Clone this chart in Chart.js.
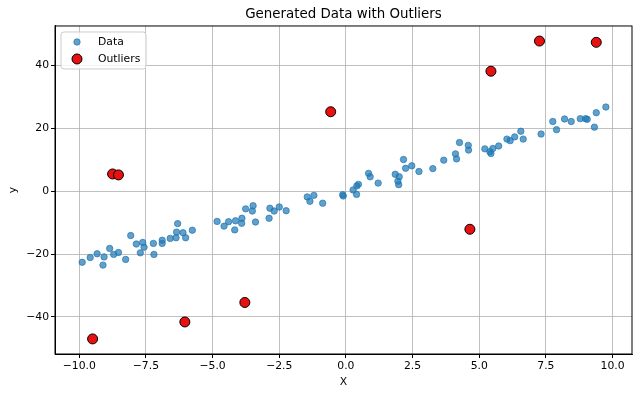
<!DOCTYPE html>
<html lang="en">
  <head>
    <meta charset="UTF-8" />
    <title>Generated Data with Outliers</title>
    <script src="https://cdn.jsdelivr.net/npm/chart.js"></script>
    <style>
      body {
        margin: 0;
        background: #ffffff;
      }
      canvas {
        display: block;
      }
    </style>
  </head>
  <body>
    <canvas id="scatterChart" width="640" height="397"></canvas>

    <script>
      // values
      const xTicks = [-10, -7.5, -5, -2.5, 0, 2.5, 5, 7.5, 10];
      const yTicks = [-40, -20, 0, 20, 40];

      const dataX = [
        -9.89, -9.59, -9.33, -9.07, -9.11, -8.86, -8.71, -8.53, -8.26, -8.07,
        -7.86, -7.62, -7.57, -7.71, -7.22, -7.20, -6.89, -6.89, -6.59, -6.37,
        -6.35, -6.31, -6.11, -6.01, -5.76, -4.83, -4.57, -4.40, -4.17, -4.14,
        -3.91, -3.90, -3.76, -3.51, -3.48, -3.39, -2.88, -2.85, -2.69, -2.50,
        -2.24, -1.45, -1.35, -1.20, -0.87, -0.12, -0.10, 0.27, 0.40, 0.47,
        0.41, 0.85, 0.91, 1.21, 1.85, 1.95, 1.98, 2.00, 2.16, 2.24,
        2.47, 2.74, 3.26, 3.67, 4.11, 4.15, 4.26, 4.59, 4.60, 5.21,
        5.40, 5.44, 5.51, 5.73, 6.04, 6.16, 6.33, 6.56, 6.65, 7.32,
        7.76, 7.90, 8.20, 8.45, 8.79, 8.99, 9.05, 9.32, 9.39, 9.75
      ];
      const dataY = [
        -22.6, -21.1, -19.9, -20.9, -23.5, -18.2, -20.1, -19.5, -21.7, -14.1,
        -16.8, -16.3, -17.8, -19.6, -16.6, -20.1, -15.6, -16.6, -15.0, -14.8,
        -13.0, -10.3, -13.2, -14.8, -12.4, -9.6, -11.1, -9.7, -12.3, -9.4,
        -10.2, -8.6, -5.6, -6.3, -4.6, -9.8, -8.6, -5.4, -6.3, -5.0,
        -6.2, -1.8, -3.2, -1.3, -3.8, -1.1, -1.5, 0.4, -1.0, 2.2,
        1.7, 5.7, 4.6, 2.6, 5.4, 3.2, 2.1, 4.6, 10.1, 7.3,
        8.1, 6.3, 7.2, 9.9, 11.9, 10.3, 15.5, 14.6, 13.1, 13.5,
        12.6, 12.0, 13.6, 14.4, 16.6, 16.1, 17.3, 19.1, 16.6, 18.2,
        22.2, 19.6, 23.0, 22.2, 23.1, 23.1, 22.9, 20.4, 25.0, 26.8
      ];

      const outX = [-9.50, -8.75, -8.53, -6.04, -3.79, -0.57, 4.65, 5.44, 7.26, 9.39];
      const outY = [-47.0, 5.5, 5.2, -41.6, -35.4, 25.3, -12.1, 38.2, 47.8, 47.4];

      const toPoints = (xs, ys) => xs.map((x, i) => ({ x: x, y: ys[i] }));
      const fmtMinus = s => s.replace('-', '\u2212');
      const font = 'DejaVu Sans';
      const small = 10.8;

      // spines on top and right, and the legend box inside the axes
      const framePlugin = {
        id: 'frame',
        afterDraw(chart) {
          const { ctx, chartArea } = chart;
          ctx.save();
          ctx.strokeStyle = '#000';
          ctx.lineWidth = 1;
          ctx.strokeRect(chartArea.left, chartArea.top,
            chartArea.right - chartArea.left, chartArea.bottom - chartArea.top);

          const bx = chartArea.left + 6;
          const by = chartArea.top + 6;
          ctx.beginPath();
          ctx.roundRect(bx, by, 85, 37, 3);
          ctx.fillStyle = 'rgba(255,255,255,0.8)';
          ctx.fill();
          ctx.strokeStyle = '#cccccc';
          ctx.lineWidth = 1;
          ctx.stroke();

          ctx.font = small + 'px "' + font + '"';
          ctx.textBaseline = 'middle';
          chart.data.datasets.slice().reverse().forEach((ds, i) => {
            const cy = by + 10 + i * 17;
            ctx.beginPath();
            ctx.arc(bx + 16, cy, ds.pointRadius, 0, Math.PI * 2);
            ctx.fillStyle = ds.backgroundColor;
            ctx.fill();
            ctx.lineWidth = ds.borderWidth;
            ctx.strokeStyle = ds.borderColor;
            ctx.stroke();
            ctx.fillStyle = '#000';
            ctx.fillText(ds.label, bx + 37, cy);
          });
          ctx.restore();
        }
      };

      const ctx = document.getElementById('scatterChart').getContext('2d');
      new Chart(ctx, {
        type: 'scatter',
        data: {
          datasets: [
            {
              label: 'Outliers',
              data: toPoints(outX, outY),
              backgroundColor: '#e81010',
              borderColor: '#000000',
              borderWidth: 1,
              pointRadius: 5,
              order: 1
            },
            {
              label: 'Data',
              data: toPoints(dataX, dataY),
              backgroundColor: 'rgba(31,119,180,0.7)',
              borderColor: 'rgba(31,119,180,0.7)',
              borderWidth: 1,
              pointRadius: 3.2,
              order: 2
            }
          ]
        },
        options: {
          responsive: false,
          animation: false,
          layout: { padding: { left: 0, right: 8, top: 0, bottom: 0 } },
          plugins: {
            legend: { display: false },
            tooltip: { enabled: false },
            title: {
              display: true,
              text: 'Generated Data with Outliers',
              fullSize: false,
              color: '#000',
              font: { family: font, size: 13.4, weight: 'normal', lineHeight: 1.2 },
              padding: { top: 6, bottom: 3.9 }
            }
          },
          scales: {
            x: {
              type: 'linear',
              min: -10.91,
              max: 10.73,
              afterBuildTicks: scale => { scale.ticks = xTicks.map(v => ({ value: v })); },
              afterFit: scale => { scale.height = 43; },
              grid: { color: '#b0b0b0', lineWidth: 0.8, tickColor: '#000', tickLength: 4, tickWidth: 1 },
              border: { color: '#000', width: 1 },
              ticks: {
                color: '#000',
                padding: 2,
                maxRotation: 0,
                font: { family: font, size: small },
                callback: v => fmtMinus(v.toFixed(1))
              },
              title: {
                display: true,
                text: 'X',
                color: '#000',
                font: { family: font, size: small, lineHeight: 1.2 },
                padding: { top: 0, bottom: 8.5 }
              }
            },
            y: {
              type: 'linear',
              min: -51.8,
              max: 52.6,
              afterBuildTicks: scale => { scale.ticks = yTicks.map(v => ({ value: v })); },
              afterFit: scale => { scale.width = 55; },
              grid: { color: '#b0b0b0', lineWidth: 0.8, tickColor: '#000', tickLength: 4, tickWidth: 1 },
              border: { color: '#000', width: 1 },
              ticks: {
                color: '#000',
                padding: 2,
                font: { family: font, size: small },
                callback: v => fmtMinus(String(v))
              },
              title: {
                display: true,
                text: 'y',
                color: '#000',
                font: { family: font, size: small, lineHeight: 1.2 },
                padding: { top: 6.5, bottom: 0 }
              }
            }
          }
        },
        plugins: [framePlugin]
      });
    </script>
  </body>
</html>
